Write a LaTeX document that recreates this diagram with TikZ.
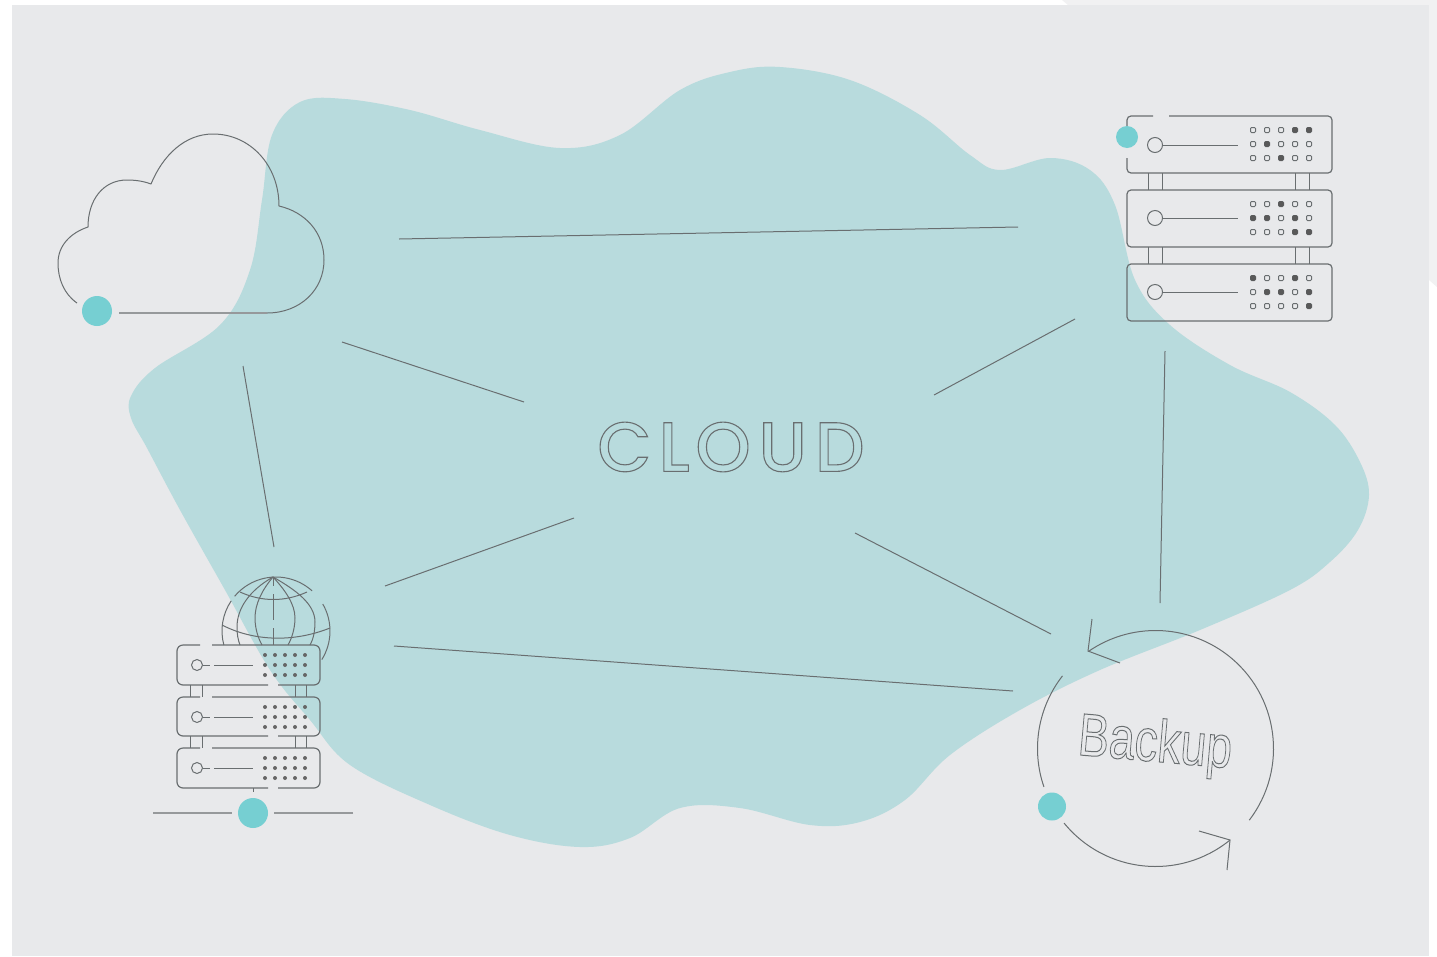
\documentclass[tikz,border=0pt]{standalone}
\usepackage{fontspec}
\newfontfamily\cloudfont{Poppins Medium}
\newfontfamily\backupfont{Liberation Sans}
\usetikzlibrary{calc, positioning}
\definecolor{panel-grey}{RGB}{232,233,235}
\definecolor{corner-grey}{RGB}{241,241,242}
\definecolor{blob-teal}{RGB}{184,219,221}
\definecolor{dot-teal}{RGB}{118,207,210}
\definecolor{line-grey}{RGB}{105,110,112}
\newcommand{\outlined}[2]{\special{pdf:code q #1 w 1 Tr}#2\special{pdf:code 0 Tr Q}}
\tikzset{%
  x=1pt, y=-1pt,
  edge/.style={%
    draw=line-grey,
    line width=1pt,
  },
  thinline/.style={%
    draw=line-grey,
    line width=1pt,
  },
  softline/.style={%
    draw=line-grey!70,
    line width=1.8pt,
  },
  rack/.style={%
    draw=line-grey,
    line width=1.2pt,
    rounded corners=4pt,
  },
  marker/.style={%
    circle,
    fill=dot-teal,
    inner sep=0pt,
  },
  label/.style={%
    text=line-grey,
    inner sep=0pt,
  },
}

\begin{document}
\begin{tikzpicture}
  \useasboundingbox (0,0) rectangle (1437,956);
  \fill[white] (0,0) rectangle (1437,956);
  \fill[corner-grey] (1062,0) -- (1437,0) -- (1437,287) -- (1429,280) -- (1429,5) -- (1068,5) -- cycle;
  \fill[panel-grey] (12,5) rectangle (1429,956);

  % blob
  \fill[blob-teal] plot[smooth cycle, tension=.6] coordinates {
    (300,102) (345,99) (410,110) (480,130) (560,148) (620,135) (680,90) (730,72)
    (780,67) (850,80) (920,115) (970,155) (1000,170) (1050,158) (1090,170)
    (1115,205) (1135,280) (1170,325) (1230,365) (1290,392) (1335,425) (1360,462)
    (1369,495) (1358,530) (1330,562) (1290,590) (1200,630) (1100,670) (1020,710)
    (950,755) (905,800) (860,822) (810,825) (740,808) (680,808) (630,838) (580,847)
    (510,835) (430,805) (350,765) (310,720) (270,670) (225,590) (180,510) (147,448)
    (131,418) (131,396) (155,368) (220,325) (250,270) (262,200) (272,135)};

  % cloud
  \draw[thinline, line join=round] (77,303) .. controls (64,294) and (58,279) .. (58,263)
    .. controls (58,246) and (70,233) .. (88,227)
    .. controls (88,200) and (103,180) .. (127,180)
    .. controls (135,180) and (143,181) .. (151,184)
    .. controls (163,155) and (185,134) .. (213,134)
    .. controls (250,134) and (279,165) .. (279,206)
    .. controls (305,212) and (324,232) .. (324,260)
    .. controls (324,290) and (300,313) .. (267,313);
  \coordinate (cloud_base) at (267,313);
  \coordinate (cloud_tail) at (119,313);
  \draw[softline] (cloud_tail) -- (cloud_base);
  \node [marker, minimum size=30pt] at (97,311) (cloud_dot) {};

  % server rack, top right
  \draw[rack] (1127,126) |- (1153,116);
  \draw[rack] (1169,116) -| (1332,173) -| (1127,158);
  \draw[rack] (1127,190) rectangle (1332,247);
  \draw[rack] (1127,264) rectangle (1332,321);
  \foreach \legx in {1148,1162,1295,1309} {
    \draw[thinline] (\legx,173) -- (\legx,190);
    \draw[thinline] (\legx,247) -- (\legx,264);
  }
  \foreach \rowy in {145,218,292} {
    \draw[thinline] (1155,\rowy) circle (7.5);
    \draw[thinline] (1162.5,\rowy) -- (1238,\rowy);
  }
  % hollow and full leds
  \foreach \ledy in {130,144,158,204,218,232,278,292,306} {
    \foreach \ledx in {1253,1267,1281,1295,1309} {
      \draw[line-grey, line width=1pt, rounded corners=1pt] (\ledx-2.5,\ledy-2.5) rectangle (\ledx+2.5,\ledy+2.5);
    }
  }
  \foreach \ledx/\ledy in {1295/130,1309/130,1267/144,1281/158,%
      1281/204,1253/218,1267/218,1295/218,1295/232,1309/232,%
      1253/278,1295/278,1267/292,1281/292,1309/292,1309/306} {
    \fill[black!65] (\ledx,\ledy) circle (3);
  }
  \node [marker, minimum size=22pt] at (1127,137) (rack_dot) {};

  % globe
  \draw[thinline] (276,631) ++(165:54) arc (165:214:54);
  \draw[thinline] (276,631) ++(220:54) arc (220:312:54);
  \draw[thinline] (276,631) ++(-30:54) arc (-30:32:54);
  \draw[thinline] (273,577) .. controls (250,590) and (237,608) .. (237,627) .. controls (237,634) and (238,640) .. (240,645);
  \draw[thinline] (273,577) .. controls (296,590) and (315,604) .. (315,622) .. controls (315,632) and (313,640) .. (310,645);
  \draw[thinline] (273,577) .. controls (262,590) and (255,604) .. (255,618) .. controls (255,628) and (258,638) .. (262,645);
  \draw[thinline] (273,577) .. controls (285,590) and (295,604) .. (295,618) .. controls (295,628) and (292,638) .. (288,645);
  \draw[thinline] (240,592) .. controls (262,602) and (285,602) .. (307,592);
  \draw[thinline] (222,625) .. controls (255,642) and (295,642) .. (330,628);
  \draw[thinline] (273,577) -- (273,586) (273,594) -- (273,620) (273,628) -- (273,645);

  % server rack, bottom left
  \foreach \boxy/\boxh in {645/40,697/39,748/40} {
    \draw[rack, rounded corners=6pt] (200,\boxy) -| (177,\boxy+\boxh) -- (268,\boxy+\boxh);
    \draw[rack, rounded corners=6pt] (212,\boxy) -| (320,\boxy+\boxh) -- (278,\boxy+\boxh);
  }
  \foreach \legx in {190,202,295,306} {
    \draw[thinline] (\legx,685) -- (\legx,697);
    \draw[thinline] (\legx,736) -- (\legx,748);
  }
  \foreach \rowy in {665,717,768} {
    \draw[thinline] (197,\rowy) circle (5.5);
    \draw[thinline] (202.5,\rowy) -- (210,\rowy) (214,\rowy) -- (253,\rowy);
    \foreach \ledx in {265,275,285,295,305} {
      \foreach \ledd in {-10,0,10} {
        \fill[black!60] (\ledx,\rowy+\ledd) circle (2);
      }
    }
  }
  \draw[thinline] (253,788) -- (253,792);
  \node [marker, minimum size=30pt] at (253,813) (rack_low_dot) {};
  \coordinate (ground_left) at (153,813);
  \coordinate (ground_right) at (353,813);
  \draw[softline, shorten >=6pt] (ground_left) -- (rack_low_dot);
  \draw[softline, shorten >=6pt] (ground_right) -- (rack_low_dot);

  % backup ring
  \coordinate (ring) at (1155.5,748.5);
  \draw[thinline] (ring) ++(218:118) arc (218:161:118);
  \draw[thinline] (ring) ++(140.8:118) arc (140.8:50.8:118);
  \draw[thinline] (ring) ++(37.4:118) arc (37.4:-124.7:118);
  \draw[thinline, line join=miter] (1199,831) -- (1230,840) -- (1227,870);
  \draw[thinline, line join=miter] (1092,619) -- (1088,651) -- (1120,663);
  \node [marker, minimum size=28pt] at (1052,806.5) (backup_dot) {};

  % texts
  \node [label, font=\cloudfont\fontsize{70}{70}\selectfont] at (731,447) (cloud_text)
    {\outlined{1.1}{C\kern7pt L\kern6pt O\kern8pt U\kern8pt D}};
  \node [label, rotate=-5, xscale=.77, font=\backupfont\fontsize{60}{60}\selectfont] at (1155,746) (backup_text)
    {\outlined{1}{Backup}};

  % links
  \coordinate (cloud_right) at (399,239);
  \coordinate (rack_left) at (1018,227);
  \coordinate (cloud_low) at (342,342);
  \coordinate (mid_nw) at (524,402);
  \coordinate (cloud_down) at (243,366);
  \coordinate (globe_up) at (274,547);
  \coordinate (globe_right) at (385,586);
  \coordinate (mid_sw) at (574,518);
  \coordinate (low_right) at (394,646);
  \coordinate (ring_left) at (1013,691);
  \coordinate (mid_se) at (855,533);
  \coordinate (ring_up) at (1051,634);
  \coordinate (mid_ne) at (934,395);
  \coordinate (rack_low) at (1075,319);
  \coordinate (rack_down) at (1165,351);
  \coordinate (ring_top) at (1160,603);

  \draw[edge] (cloud_right) -- (rack_left);
  \draw[edge] (cloud_low) -- (mid_nw);
  \draw[edge] (cloud_down) -- (globe_up);
  \draw[edge] (globe_right) -- (mid_sw);
  \draw[edge] (low_right) -- (ring_left);
  \draw[edge] (mid_se) -- (ring_up);
  \draw[edge] (mid_ne) -- (rack_low);
  \draw[edge] (rack_down) -- (ring_top);
\end{tikzpicture}
\end{document}
